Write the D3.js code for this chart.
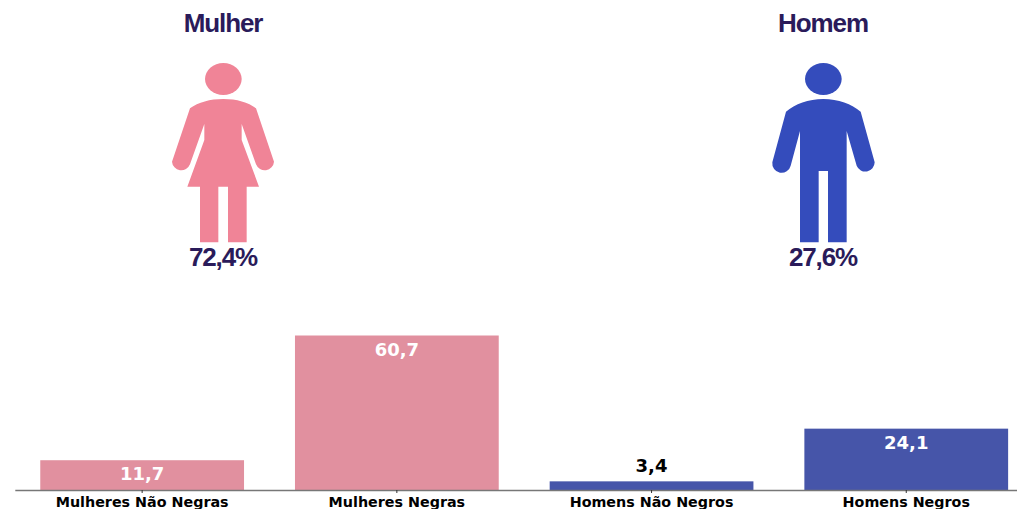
<!DOCTYPE html>
<html>
<head>
<meta charset="utf-8">
<script src="https://cdn.jsdelivr.net/npm/d3@7"></script>
<style>
    html, body { margin: 0; padding: 0; background: #fff; overflow: hidden; }
</style>
</head>
<body>
<div id="chart"></div>
<script>
const categories = ["Mulheres Não Negras", "Mulheres Negras", "Homens Não Negros", "Homens Negros"];
const values = [11.7, 60.7, 3.4, 24.1];
const genders = ["Mulher", "Homem"];
const genderValues = [72.4, 27.6];

const width = 1017;
const height = 509;
const baseline = 490;

const barColors = ["#e1909f", "#e1909f", "#4655a9", "#4655a9"];
const iconColors = ["#f08497", "#344cbc"];
const iconLeft = [150, 750];
const textDark = "#2a1b5a";

// icon outlines, drawn on a 3x grid and scaled down
const iconPaths = [
    "M220 297C180 297 145 307 120 325L66 485A28 28 0 0 0 120 493L163 372L163 420L112 560L150 560L150 727L205 727L205 560L234 560L234 727L290 727L290 560L327 560L275 420L275 372L318 493A28 28 0 0 0 372 485L318 325C295 307 260 297 220 297Z",
    "M220 297C175 297 135 312 108 335L67 487A28 28 0 0 0 122 497L150 393L150 727L206 727L206 513L234 513L234 727L290 727L290 393L320 497A28 28 0 0 0 374 487L332 335C305 312 265 297 220 297Z"
];

const ptBR = d3.formatLocale({ decimal: ",", thousands: ".", grouping: [3], currency: ["R$", ""] });
const fmt = ptBR.format(".1f");

const svg = d3.select("#chart").append("svg")
    .attr("width", width)
    .attr("height", height)
    .style("display", "block");

const x = d3.scaleBand()
    .domain(categories)
    .range([14.8, 1033.6])
    .paddingInner(0.2)
    .paddingOuter(0.1);

const y = d3.scaleLinear()
    .domain([0, 60.7])
    .range([baseline, 335.5]);

svg.selectAll("rect.bar")
    .data(values)
    .enter().append("rect")
    .attr("class", "bar")
    .attr("x", (d, i) => x(categories[i]))
    .attr("y", d => y(d))
    .attr("width", x.bandwidth())
    .attr("height", d => baseline - y(d))
    .attr("fill", (d, i) => barColors[i]);

svg.selectAll("text.value")
    .data(values)
    .enter().append("text")
    .attr("class", "value")
    .attr("x", (d, i) => x(categories[i]) + x.bandwidth() / 2)
    .attr("y", d => d < 5 ? y(d) - 9 : y(d) + 20)
    .attr("text-anchor", "middle")
    .attr("font-family", "DejaVu Sans")
    .attr("font-weight", "bold")
    .attr("font-size", 18)
    .attr("fill", d => d < 5 ? "#000" : "#fff")
    .text(d => fmt(d));

const axis = svg.append("g")
    .attr("transform", "translate(0," + baseline + ")")
    .call(d3.axisBottom(x).tickSize(3).tickSizeOuter(0).tickPadding(4));

axis.select(".domain")
    .attr("stroke", "#777")
    .attr("stroke-width", 1.5);

axis.selectAll(".tick line").attr("stroke", "#333");

axis.selectAll(".tick text")
    .attr("font-family", "DejaVu Sans")
    .attr("font-weight", "bold")
    .attr("font-size", 14.3)
    .attr("fill", "#000");

const person = svg.selectAll("g.person")
    .data(genders)
    .enter().append("g")
    .attr("class", "person")
    .attr("transform", (d, i) => "translate(" + iconLeft[i] + ",0)");

const icon = person.append("g")
    .attr("transform", "scale(" + 1 / 3 + ")")
    .attr("fill", (d, i) => iconColors[i]);

icon.append("ellipse")
    .attr("cx", 220)
    .attr("cy", 237)
    .attr("rx", 55)
    .attr("ry", 48);

icon.append("path")
    .attr("d", (d, i) => iconPaths[i]);

person.append("text")
    .attr("x", 73)
    .attr("y", 31.5)
    .attr("text-anchor", "middle")
    .attr("font-family", "Liberation Sans")
    .attr("font-weight", "bold")
    .attr("font-size", 26)
    .attr("letter-spacing", -1.1)
    .attr("fill", textDark)
    .text(d => d);

person.append("text")
    .attr("x", 73)
    .attr("y", 266)
    .attr("text-anchor", "middle")
    .attr("font-family", "Liberation Sans")
    .attr("font-weight", "bold")
    .attr("font-size", 26)
    .attr("letter-spacing", -1.1)
    .attr("fill", textDark)
    .text((d, i) => fmt(genderValues[i]) + "%");
</script>
</body>
</html>
